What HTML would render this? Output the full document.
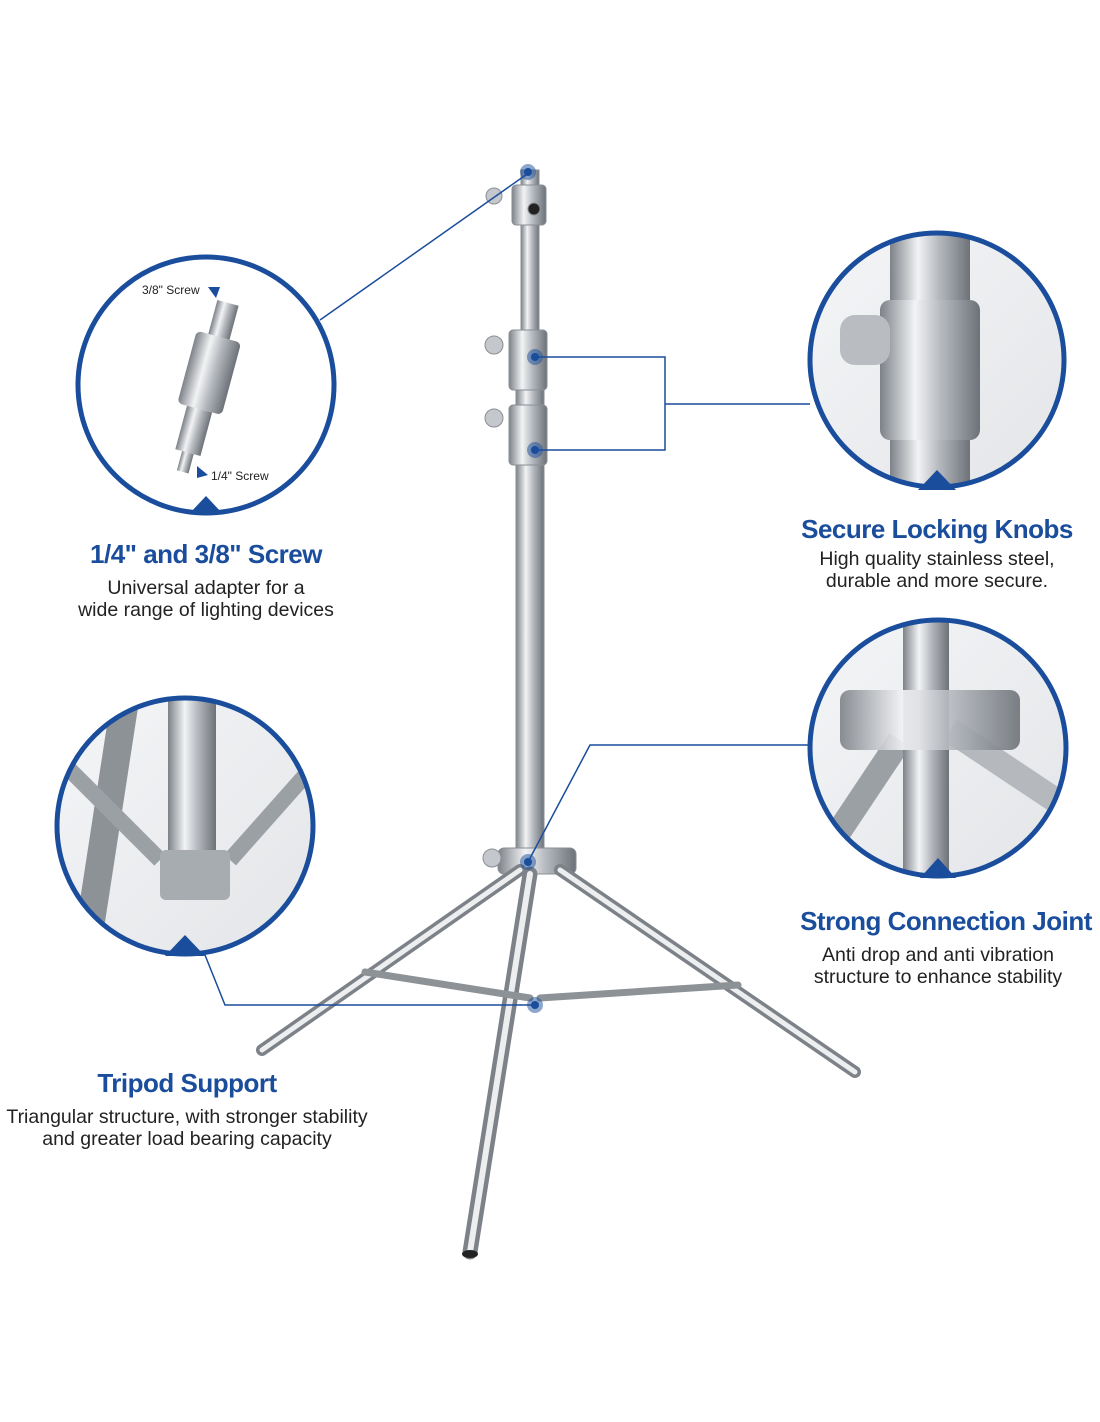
<!DOCTYPE html>
<html><head><meta charset="utf-8"><style>
html,body{margin:0;padding:0;background:#fff;}
svg{display:block}
text{font-family:"Liberation Sans",Arial,sans-serif;}
.t{fill:#1a4d9c;font-weight:bold;font-size:26px;text-anchor:middle;letter-spacing:-0.5px}
.b{fill:#222;font-size:19.5px;text-anchor:middle}
</style></head><body>
<svg width="1100" height="1422" viewBox="0 0 1100 1422">
<defs>
<linearGradient id="m" x1="0" x2="1" y1="0" y2="0">
<stop offset="0" stop-color="#7d8288"/><stop offset="0.35" stop-color="#f2f3f5"/><stop offset="0.6" stop-color="#b8bcc1"/><stop offset="1" stop-color="#6d7278"/>
</linearGradient>
<linearGradient id="bg" x1="0" x2="1" y1="0" y2="1">
<stop offset="0" stop-color="#f4f5f7"/><stop offset="1" stop-color="#e3e5e8"/>
</linearGradient>
<clipPath id="c1"><circle cx="206" cy="385" r="128"/></clipPath>
<clipPath id="c2"><circle cx="937" cy="360" r="127"/></clipPath>
<clipPath id="c3"><circle cx="938" cy="748" r="128"/></clipPath>
<clipPath id="c4"><circle cx="185" cy="826" r="128"/></clipPath>
</defs>

<!-- stand -->
<g stroke="#8a8f95" stroke-width="1">
<rect x="521" y="170" width="18" height="190" fill="url(#m)"/>
<rect x="516" y="350" width="28" height="520" fill="url(#m)"/>
<rect x="509" y="330" width="38" height="60" rx="4" fill="url(#m)"/>
<rect x="509" y="405" width="38" height="60" rx="4" fill="url(#m)"/>
<rect x="512" y="185" width="34" height="40" rx="4" fill="url(#m)"/>
<circle cx="494" cy="196" r="8" fill="#c4c7cb"/>
<circle cx="494" cy="345" r="9" fill="#c4c7cb"/>
<circle cx="494" cy="418" r="9" fill="#c4c7cb"/>
<circle cx="534" cy="209" r="6" fill="#222"/>
<rect x="498" y="848" width="78" height="26" rx="6" fill="url(#m)"/>
<circle cx="492" cy="858" r="9" fill="#c4c7cb"/>
</g>
<g stroke-linecap="round" fill="none">
<line x1="520" y1="870" x2="262" y2="1050" stroke="#7d8288" stroke-width="12"/>
<line x1="520" y1="870" x2="262" y2="1050" stroke="#eceef0" stroke-width="5"/>
<line x1="560" y1="870" x2="855" y2="1072" stroke="#7d8288" stroke-width="12"/>
<line x1="560" y1="870" x2="855" y2="1072" stroke="#eceef0" stroke-width="5"/>
<line x1="530" y1="874" x2="470" y2="1252" stroke="#7d8288" stroke-width="15"/>
<line x1="530" y1="874" x2="470" y2="1252" stroke="#eceef0" stroke-width="6"/>
<line x1="530" y1="998" x2="365" y2="972" stroke="#8d9297" stroke-width="7"/>
<line x1="540" y1="998" x2="738" y2="985" stroke="#8d9297" stroke-width="7"/>
</g>
<ellipse cx="470" cy="1254" rx="8" ry="4" fill="#222"/>

<!-- connectors -->
<g stroke="#1a4d9c" stroke-width="1.5" fill="none">
<line x1="530" y1="172" x2="320" y2="320"/>
<polyline points="535,357 665,357 665,450 535,450"/>
<line x1="665" y1="404" x2="810" y2="404"/>
<polyline points="528,862 590,745 808,745"/>
<polyline points="205,955 225,1005 535,1005"/>
</g>
<g fill="#1a4d9c">
<circle cx="528" cy="172" r="8" fill-opacity="0.5"/><circle cx="528" cy="172" r="4"/>
<circle cx="535" cy="357" r="8" fill-opacity="0.5"/><circle cx="535" cy="357" r="4"/>
<circle cx="535" cy="450" r="8" fill-opacity="0.5"/><circle cx="535" cy="450" r="4"/>
<circle cx="528" cy="862" r="8" fill-opacity="0.5"/><circle cx="528" cy="862" r="4"/>
<circle cx="535" cy="1005" r="8" fill-opacity="0.5"/><circle cx="535" cy="1005" r="4"/>
</g>

<!-- circle 1 -->
<circle cx="206" cy="385" r="128" fill="#fff"/>
<g clip-path="url(#c1)" transform="rotate(15 206 385)">
<rect x="195" y="300" width="22" height="40" fill="url(#m)"/>
<rect x="183" y="335" width="46" height="75" rx="5" fill="url(#m)"/>
<rect x="193" y="410" width="26" height="45" fill="url(#m)"/>
<rect x="200" y="455" width="12" height="20" fill="url(#m)"/>
</g>
<text x="142" y="294" font-size="12" fill="#222">3/8" Screw</text>
<polygon points="208,287 220,287 216,298" fill="#1a4d9c"/>
<text x="211" y="480" font-size="12" fill="#222">1/4" Screw</text>
<polygon points="197,466 208,475 197,478" fill="#1a4d9c"/>
<circle cx="206" cy="385" r="128" fill="none" stroke="#1a4d9c" stroke-width="5"/>
<polygon points="190,513 222,513 206,496" fill="#1a4d9c"/>

<!-- circle 2 -->
<circle cx="937" cy="360" r="127" fill="url(#bg)"/>
<g clip-path="url(#c2)">
<rect x="890" y="220" width="80" height="300" fill="url(#m)"/>
<rect x="880" y="300" width="100" height="140" rx="10" fill="url(#m)"/>
<rect x="840" y="315" width="50" height="50" rx="15" fill="#b9bdc1"/>
<rect x="860" y="220" width="30" height="20" fill="#9aa0a5"/>
</g>
<circle cx="937" cy="360" r="127" fill="none" stroke="#1a4d9c" stroke-width="5"/>
<polygon points="918,490 956,490 937,470" fill="#1a4d9c"/>

<!-- circle 3 -->
<circle cx="938" cy="748" r="128" fill="url(#bg)"/>
<g clip-path="url(#c3)">
<line x1="900" y1="740" x2="820" y2="860" stroke="#9ba0a5" stroke-width="25"/>
<line x1="950" y1="730" x2="1070" y2="810" stroke="#b5b9bd" stroke-width="25"/>
<rect x="903" y="610" width="46" height="280" fill="url(#m)"/>
<rect x="840" y="690" width="180" height="60" rx="10" fill="url(#m)" opacity="0.9"/>
</g>
<circle cx="938" cy="748" r="128" fill="none" stroke="#1a4d9c" stroke-width="5"/>
<polygon points="920,878 956,878 938,858" fill="#1a4d9c"/>

<!-- circle 4 -->
<circle cx="185" cy="826" r="128" fill="url(#bg)"/>
<g clip-path="url(#c4)">
<rect x="168" y="690" width="48" height="180" fill="url(#m)"/>
<line x1="125" y1="700" x2="85" y2="960" stroke="#8d9297" stroke-width="28"/>
<line x1="60" y1="760" x2="160" y2="860" stroke="#9ba0a5" stroke-width="16"/>
<line x1="310" y1="770" x2="230" y2="860" stroke="#9ba0a5" stroke-width="16"/>
<rect x="160" y="850" width="70" height="50" rx="6" fill="#a7acb1"/>
</g>
<circle cx="185" cy="826" r="128" fill="none" stroke="#1a4d9c" stroke-width="5"/>
<polygon points="165,956 205,956 185,935" fill="#1a4d9c"/>

<!-- texts -->
<text class="t" x="206" y="563">1/4" and 3/8" Screw</text>
<text class="b" x="206" y="594">Universal adapter for a</text>
<text class="b" x="206" y="616">wide range of lighting devices</text>

<text class="t" x="937" y="538">Secure Locking Knobs</text>
<text class="b" x="937" y="565">High quality stainless steel,</text>
<text class="b" x="937" y="587">durable and more secure.</text>

<text class="t" x="946" y="930">Strong Connection Joint</text>
<text class="b" x="938" y="961">Anti drop and anti vibration</text>
<text class="b" x="938" y="983">structure to enhance stability</text>

<text class="t" x="187" y="1092">Tripod Support</text>
<text class="b" x="187" y="1123">Triangular structure, with stronger stability</text>
<text class="b" x="187" y="1145">and greater load bearing capacity</text>
</svg>
</body></html>
